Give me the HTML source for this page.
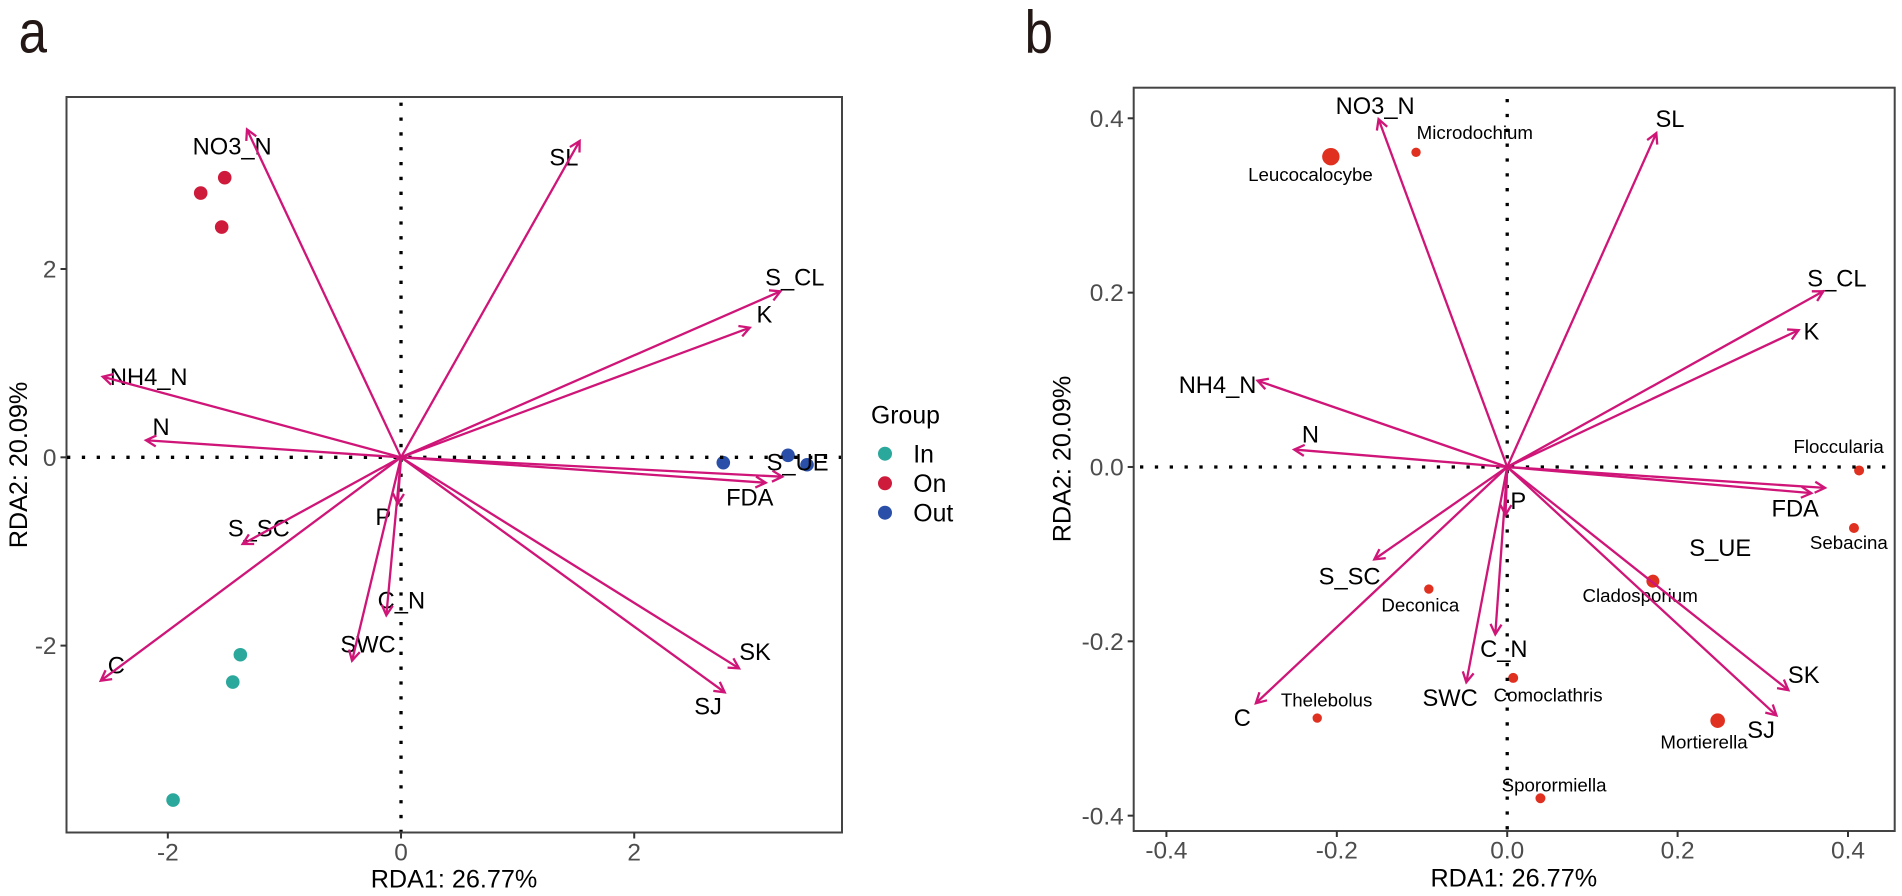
<!DOCTYPE html>
<html lang="en">
<head>
<meta charset="utf-8">
<title>RDA biplots of samples and genera</title>
<style>
html,body{margin:0;padding:0;background:#fff;width:1902px;height:896px;overflow:hidden}
svg{display:block}
text{font-family:"Liberation Sans",Arial,sans-serif}
</style>
</head>
<body>
<svg id="figure" xmlns="http://www.w3.org/2000/svg" width="1902" height="896" viewBox="0 0 1902 896">
  <rect x="0" y="0" width="1902" height="896" fill="#ffffff"/>
  <text transform="translate(18.6,52.7) scale(0.85,1)" font-size="60" fill="#231815">a</text>
  <text transform="translate(1024.6,52.7) scale(0.85,1)" font-size="60" fill="#231815">b</text>
  <g id="panel-a"></g>
  <g id="panel-b"></g>
  <g>
    <text x="871" y="423.3" font-size="24.8" fill="#000">Group</text>
    <g>
      <circle cx="885" cy="453.7" r="7" fill="#2ba89c"/>
      <text x="913.3" y="462.7" font-size="24.8" fill="#000">In</text>
    </g>
    <g>
      <circle cx="885" cy="483.3" r="7" fill="#ce1b3b"/>
      <text x="913.3" y="492" font-size="24.8" fill="#000">On</text>
    </g>
    <g>
      <circle cx="885" cy="512.7" r="7" fill="#2a4fa8"/>
      <text x="913.3" y="521.3" font-size="24.8" fill="#000">Out</text>
    </g>
  </g>
</svg>
<script>
// ---------- Panel a data ----------
const aXTickLabels = ["-2", "0", "2"];
const aYTickLabels = ["-2", "0", "2"];
const aEnvNames = ["NO3_N", "SL", "S_CL", "K", "S_UE", "FDA", "SK", "SJ", "NH4_N", "N", "S_SC", "C", "SWC", "C_N", "P"];
const aEnvRDA1 = [-1.321, 1.532, 3.254, 2.991, 3.270, 3.128, 2.899, 2.776, -2.558, -2.187, -1.358, -2.575, -0.420, -0.126, -0.028];
const aEnvRDA2 = [3.482, 3.360, 1.763, 1.377, -0.206, -0.270, -2.241, -2.496, 0.856, 0.181, -0.921, -2.373, -2.160, -1.678, -0.493];
const aEnvLabelRDA1 = [-1.448, 1.397, 3.377, 3.117, 3.401, 2.991, 3.036, 2.633, -2.164, -2.058, -1.220, -2.442, -0.283, 0.003, -0.152];
const aEnvLabelRDA2 = [3.218, 3.097, 1.823, 1.430, -0.142, -0.510, -2.153, -2.730, 0.768, 0.237, -0.843, -2.294, -2.075, -1.604, -0.719];
const aSampleGroups = ["On", "On", "On", "In", "In", "In", "Out", "Out", "Out"];
const aSampleRDA1 = [-1.512, -1.718, -1.538, -1.378, -1.443, -1.955, 2.764, 3.319, 3.482];
const aSampleRDA2 = [2.970, 2.807, 2.446, -2.097, -2.387, -3.640, -0.057, 0.021, -0.079];

// ---------- Panel b data ----------
const bXTickLabels = ["-0.4", "-0.2", "0.0", "0.2", "0.4"];
const bYTickLabels = ["-0.4", "-0.2", "0.0", "0.2", "0.4"];
const bEnvNames = ["NO3_N", "SL", "S_CL", "K", "S_UE", "FDA", "SK", "SJ", "NH4_N", "N", "S_SC", "C", "SWC", "C_N", "P"];
const bEnvRDA1 = [-0.151, 0.175, 0.371, 0.342, 0.373, 0.357, 0.330, 0.316, -0.293, -0.250, -0.156, -0.295, -0.048, -0.014, -0.002];
const bEnvRDA2 = [0.399, 0.383, 0.2016, 0.157, -0.024, -0.030, -0.256, -0.285, 0.099, 0.020, -0.106, -0.271, -0.247, -0.192, -0.055];
const bEnvLabelRDA1 = [-0.155, 0.191, 0.387, 0.357, 0.250, 0.338, 0.348, 0.298, -0.340, -0.231, -0.185, -0.311, -0.067, -0.004, 0.013];
const bEnvLabelRDA2 = [0.405, 0.390, 0.207, 0.146, -0.102, -0.057, -0.248, -0.311, 0.085, 0.028, -0.135, -0.297, -0.274, -0.218, -0.048];
const bGenusNames = ["Leucocalocybe", "Microdochium", "Floccularia", "Sebacina", "Cladosporium", "Deconica", "Comoclathris", "Thelebolus", "Mortierella", "Sporormiella"];
const bGenusRDA1 = [-0.207, -0.107, 0.413, 0.407, 0.171, -0.092, 0.007, -0.223, 0.247, 0.039];
const bGenusRDA2 = [0.356, 0.361, -0.004, -0.070, -0.131, -0.140, -0.242, -0.288, -0.291, -0.380];
const bGenusAbundance = [8.7, 4.7, 5, 5, 6.5, 4.7, 5, 4.7, 7.3, 5];
const bGenusLabelRDA1 = [-0.231, -0.038, 0.389, 0.401, 0.156, -0.102, 0.048, -0.212, 0.231, 0.055];
const bGenusLabelRDA2 = [0.328, 0.376, 0.016, -0.094, -0.155, -0.166, -0.269, -0.275, -0.323, -0.372];

const groupColor = { In: "#2ba89c", On: "#ce1b3b", Out: "#2a4fa8" };
const ARROW = "#cf1578";
const NS = "http://www.w3.org/2000/svg";

function slug(s) { return String(s).toLowerCase().replace(/[^a-z0-9]+/g, "-"); }

function make(parent, tag, name, attrs, content) {
  const el = document.createElementNS(NS, tag);
  
  
  for (const k in attrs) el.setAttribute(k, attrs[k]);
  if (content !== undefined) el.textContent = content;
  parent.appendChild(el);
  return el;
}

function linearScale(d0, d1, r0, r1) {
  return v => r0 + (v - d0) / (d1 - d0) * (r1 - r0);
}

function drawFrameAndAxes(g, p) {
  const x = linearScale(p.xDomain[0], p.xDomain[1], p.left, p.right);
  const y = linearScale(p.yDomain[0], p.yDomain[1], p.bottom, p.top);
  make(g, "rect", "plot-panel-border", {
    x: p.left, y: p.top, width: p.right - p.left, height: p.bottom - p.top,
    fill: "none", stroke: "#444444", "stroke-width": 2
  });
  p.xTicks.forEach(label => {
    const px = x(+label);
    make(g, "line", "x-axis-tick-" + slug(label), { x1: px, x2: px, y1: p.bottom, y2: p.bottom + 6, stroke: "#333333", "stroke-width": 2 });
    make(g, "text", "x-axis-tick-label-" + slug(label), { x: px, y: p.xTickBase, "text-anchor": "middle", "font-size": 24.4, fill: "#4d4d4d" }, label);
  });
  p.yTicks.forEach(label => {
    const py = y(+label);
    make(g, "line", "y-axis-tick-" + slug(label), { x1: p.left - 6, x2: p.left, y1: py, y2: py, stroke: "#333333", "stroke-width": 2 });
    make(g, "text", "y-axis-tick-label-" + slug(label), { x: p.left - 10, y: py + 8.6, "text-anchor": "end", "font-size": 24.4, fill: "#4d4d4d" }, label);
  });
  make(g, "text", "x-axis-title", { x: p.xTitleX, y: p.xTitleY, "text-anchor": "middle", "font-size": 25.2, fill: "#000" }, "RDA1: 26.77%");
  make(g, "text", "y-axis-title", {
    x: 0, y: 0, "text-anchor": "middle", "font-size": 25.2, fill: "#000",
    transform: "translate(" + p.yTitleX + "," + p.yTitleY + ") rotate(-90)"
  }, "RDA2: 20.09%");
  return { x, y };
}

function drawZeroLines(g, p, s) {
  const common = { stroke: "#000000", "stroke-width": 3.3, "stroke-dasharray": "3.3 11.54", fill: "none" };
  make(g, "line", "zero-line-horizontal", Object.assign({ x1: p.hStart, x2: p.right - 1, y1: s.y(0), y2: s.y(0) }, common));
  make(g, "line", "zero-line-vertical", Object.assign({ x1: s.x(0), x2: s.x(0), y1: p.vStart, y2: p.bottom - 1 }, common));
}

function drawArrows(g, s, names, xs, ys) {
  names.forEach((n, i) => {
    const x0 = s.x(0), y0 = s.y(0), x1 = s.x(xs[i]), y1 = s.y(ys[i]);
    const ang = Math.atan2(y1 - y0, x1 - x0), len = 11.5, spread = 0.5;
    const ax = x1 - len * Math.cos(ang - spread), ay = y1 - len * Math.sin(ang - spread);
    const bx = x1 - len * Math.cos(ang + spread), by = y1 - len * Math.sin(ang + spread);
    const arrow = make(g, "g", "arrow-" + slug(n), {});
    make(arrow, "line", "arrow-shaft-" + slug(n), { x1: x0, y1: y0, x2: x1, y2: y1, stroke: ARROW, "stroke-width": 2.3 });
    make(arrow, "polyline", "arrow-head-" + slug(n), {
      points: ax + "," + ay + " " + x1 + "," + y1 + " " + bx + "," + by,
      fill: "none", stroke: ARROW, "stroke-width": 2.3
    });
  });
}

function drawEnvLabels(g, s, names, xs, ys) {
  names.forEach((n, i) => {
    make(g, "text", "env-label-" + slug(n), { x: s.x(xs[i]), y: s.y(ys[i]), "text-anchor": "middle", "font-size": 23.7, fill: "#000" }, n);
  });
}

// ---------- Panel a ----------
const panelA = {
  left: 66.5, right: 842, top: 97, bottom: 832.5,
  xDomain: [-2.869, 3.782], yDomain: [-3.985, 3.827],
  xTicks: aXTickLabels, yTicks: aYTickLabels,
  xTickBase: 860.7, xTitleX: 454, xTitleY: 887.5, yTitleX: 27, yTitleY: 465,
  hStart: 67, vStart: 102.6
};
const gA = document.getElementById("panel-a");
const sA = drawFrameAndAxes(gA, panelA);
aSampleGroups.forEach((grp, i) => {
  make(gA, "circle", "sample-point-" + slug(grp) + "-" + (i + 1), {
    cx: sA.x(aSampleRDA1[i]), cy: sA.y(aSampleRDA2[i]), r: 6.8, fill: groupColor[grp]
  });
});
drawZeroLines(gA, panelA, sA);
drawEnvLabels(gA, sA, aEnvNames, aEnvLabelRDA1, aEnvLabelRDA2);
drawArrows(gA, sA, aEnvNames, aEnvRDA1, aEnvRDA2);

// ---------- Panel b ----------
const panelB = {
  left: 1133.7, right: 1894.7, top: 87.7, bottom: 831,
  xDomain: [-0.4384, 0.4548], yDomain: [-0.4176, 0.4351],
  xTicks: bXTickLabels, yTicks: bYTickLabels,
  xTickBase: 858.5, xTitleX: 1513.8, xTitleY: 886.7, yTitleX: 1070.7, yTitleY: 459,
  hStart: 1140, vStart: 99
};
const gB = document.getElementById("panel-b");
const sB = drawFrameAndAxes(gB, panelB);
bGenusNames.forEach((n, i) => {
  make(gB, "circle", "genus-point-" + slug(n), {
    cx: sB.x(bGenusRDA1[i]), cy: sB.y(bGenusRDA2[i]), r: bGenusAbundance[i], fill: "#e03020"
  });
});
drawZeroLines(gB, panelB, sB);
bGenusNames.forEach((n, i) => {
  make(gB, "text", "genus-label-" + slug(n), {
    x: sB.x(bGenusLabelRDA1[i]), y: sB.y(bGenusLabelRDA2[i]), "text-anchor": "middle", "font-size": 18.7, fill: "#000"
  }, n);
});
drawEnvLabels(gB, sB, bEnvNames, bEnvLabelRDA1, bEnvLabelRDA2);
drawArrows(gB, sB, bEnvNames, bEnvRDA1, bEnvRDA2);
</script>
</body>
</html>
